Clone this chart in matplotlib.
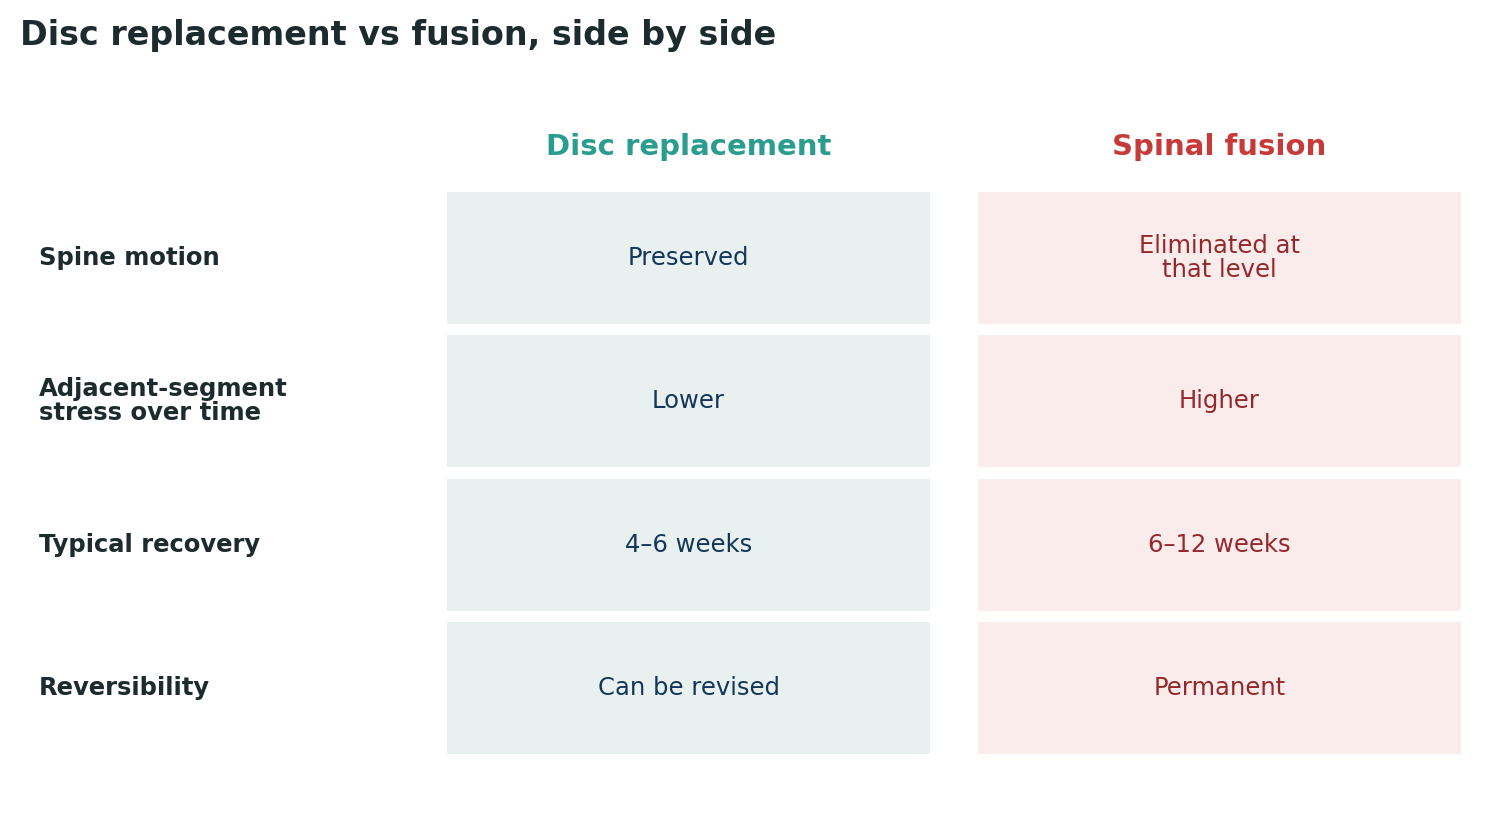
import matplotlib.pyplot as plt
from matplotlib.patches import Rectangle

title = "Disc replacement vs fusion, side by side"
columns = ["Disc replacement", "Spinal fusion"]
row_labels = ["Spine motion", "Adjacent-segment\nstress over time", "Typical recovery", "Reversibility"]
disc_values = ["Preserved", "Lower", "4\u20136 weeks", "Can be revised"]
fusion_values = ["Eliminated at\nthat level", "Higher", "6\u201312 weeks", "Permanent"]

header_colors = ["#2a9d8f", "#c73a3a"]
cell_colors = ["#e8f1f0", "#fbecec"]
text_colors = ["#14365a", "#96282d"]
dark = "#1c2b2d"

fig = plt.figure(figsize=(15, 8.17), dpi=100)
ax = fig.add_axes([0, 0, 1, 1])
ax.set_xlim(0, 1500)
ax.set_ylim(817, 0)
ax.axis("off")

fig.text(20 / 1500, 1 - 36 / 817, title, fontsize=24, fontweight="bold", color=dark, va="center", ha="left")

col_x = [447, 978]
col_w = 483
row_y = [192, 335, 479, 622]
row_h = 132

for j, (name, vals) in enumerate(zip(columns, [disc_values, fusion_values])):
    cx = col_x[j] + col_w / 2
    ax.text(cx, 147, name, fontsize=21, fontweight="bold", color=header_colors[j], ha="center", va="center")
    for i, v in enumerate(vals):
        ax.add_patch(Rectangle((col_x[j], row_y[i]), col_w, row_h, facecolor=cell_colors[j], edgecolor="none"))
        ax.text(cx, row_y[i] + row_h / 2, v, fontsize=17.5, color=text_colors[j], ha="center", va="center", linespacing=1.0)

for i, lab in enumerate(row_labels):
    ax.text(39, row_y[i] + row_h / 2, lab, fontsize=17.5, fontweight="bold", color=dark, ha="left", va="center", linespacing=1.0)

fig.savefig("out.png", dpi=100)
